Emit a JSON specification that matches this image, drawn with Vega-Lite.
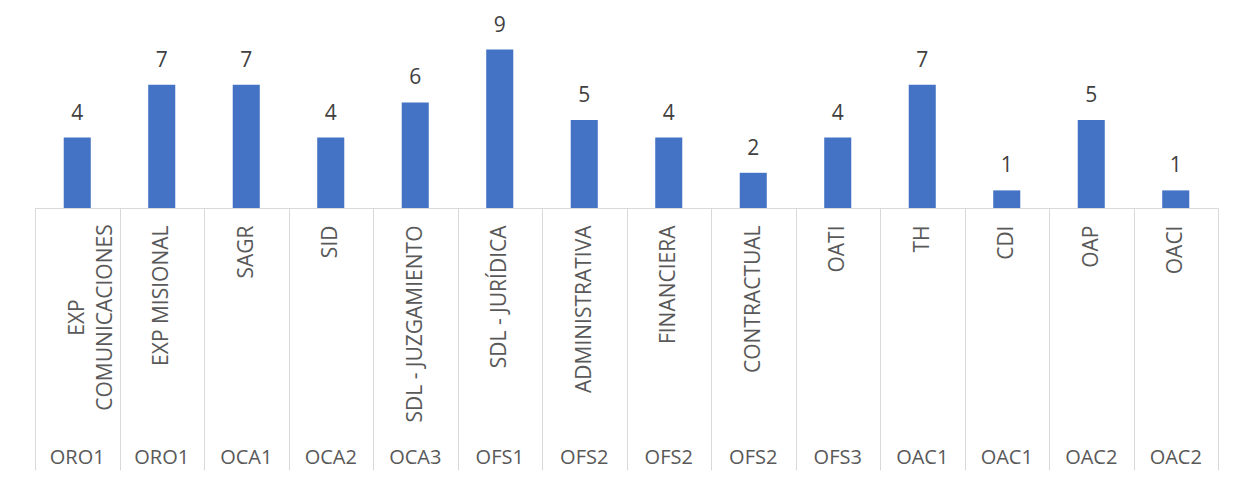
{
  "$schema": "https://vega.github.io/schema/vega-lite/v6.json",
  "width": 1183,
  "height": 176,
  "autosize": "none",
  "padding": {"left": 35, "top": 32, "right": 28, "bottom": 275},
  "background": "white",
  "config": {"view": {"stroke": null}, "font": "Open Sans"},
  "data": {
    "values": [
      {"key": "ORO1|EXP COMUNICACIONES", "grupo": "ORO1", "area": "EXP COMUNICACIONES", "valor": 4},
      {"key": "ORO1|EXP MISIONAL", "grupo": "ORO1", "area": "EXP MISIONAL", "valor": 7},
      {"key": "OCA1|SAGR", "grupo": "OCA1", "area": "SAGR", "valor": 7},
      {"key": "OCA2|SID", "grupo": "OCA2", "area": "SID", "valor": 4},
      {"key": "OCA3|SDL - JUZGAMIENTO", "grupo": "OCA3", "area": "SDL - JUZGAMIENTO", "valor": 6},
      {"key": "OFS1|SDL - JURÍDICA", "grupo": "OFS1", "area": "SDL - JURÍDICA", "valor": 9},
      {"key": "OFS2|ADMINISTRATIVA", "grupo": "OFS2", "area": "ADMINISTRATIVA", "valor": 5},
      {"key": "OFS2|FINANCIERA", "grupo": "OFS2", "area": "FINANCIERA", "valor": 4},
      {"key": "OFS2|CONTRACTUAL", "grupo": "OFS2", "area": "CONTRACTUAL", "valor": 2},
      {"key": "OFS3|OATI", "grupo": "OFS3", "area": "OATI", "valor": 4},
      {"key": "OAC1|TH", "grupo": "OAC1", "area": "TH", "valor": 7},
      {"key": "OAC1|CDI", "grupo": "OAC1", "area": "CDI", "valor": 1},
      {"key": "OAC2|OAP", "grupo": "OAC2", "area": "OAP", "valor": 5},
      {"key": "OAC2|OACI", "grupo": "OAC2", "area": "OACI", "valor": 1}
    ]
  },
  "layer": [
    {
      "mark": {"type": "bar", "color": "#4472C4", "width": {"band": 0.32}},
      "encoding": {
        "x": {
          "field": "key", "type": "nominal", "sort": null,
          "scale": {"paddingInner": 0, "paddingOuter": 0},
          "axis": {
            "orient": "bottom", "title": null,
            "domainColor": "#d9d9d9", "domainWidth": 1,
            "tickColor": "#d9d9d9", "tickWidth": 1, "tickSize": 262, "tickBand": "extent",
            "labelExpr": "split(datum.label, '|')[1] == 'EXP COMUNICACIONES' ? ['EXP', 'COMUNICACIONES'] : split(datum.label, '|')[1]",
            "labelAngle": 270,
            "labelAlign": {"condition": {"test": "datum.label == 'ORO1|EXP COMUNICACIONES'", "value": "center"}, "value": "right"},
            "labelBaseline": "middle",
            "labelPadding": {"condition": {"test": "datum.label == 'ORO1|EXP COMUNICACIONES'", "value": -153}, "value": -245},
            "labelFontSize": 21, "labelColor": "#595959",
            "labelFont": "Open Sans", "labelLimit": 400, "labelOverlap": false,
            "labelLineHeight": 28
          }
        },
        "y": {"field": "valor", "type": "quantitative", "scale": {"domain": [0, 10]}, "axis": null}
      }
    },
    {
      "mark": {"type": "text", "baseline": "alphabetic", "dy": -18, "fontSize": 21, "color": "#404040", "font": "Open Sans"},
      "encoding": {
        "x": {
          "field": "key", "type": "nominal", "sort": null,
          "axis": {
            "orient": "bottom", "title": null, "domain": false, "ticks": false, "tickSize": 0,
            "labelExpr": "split(datum.label, '|')[0]",
            "labelAngle": 0, "labelAlign": "center", "labelBaseline": "alphabetic",
            "labelPadding": 255, "labelFontSize": 20, "labelColor": "#595959",
            "labelFont": "Open Sans", "labelOverlap": false
          }
        },
        "y": {"field": "valor", "type": "quantitative"},
        "text": {"field": "valor", "type": "quantitative"}
      }
    }
  ],
  "resolve": {"axis": {"x": "independent"}}
}
